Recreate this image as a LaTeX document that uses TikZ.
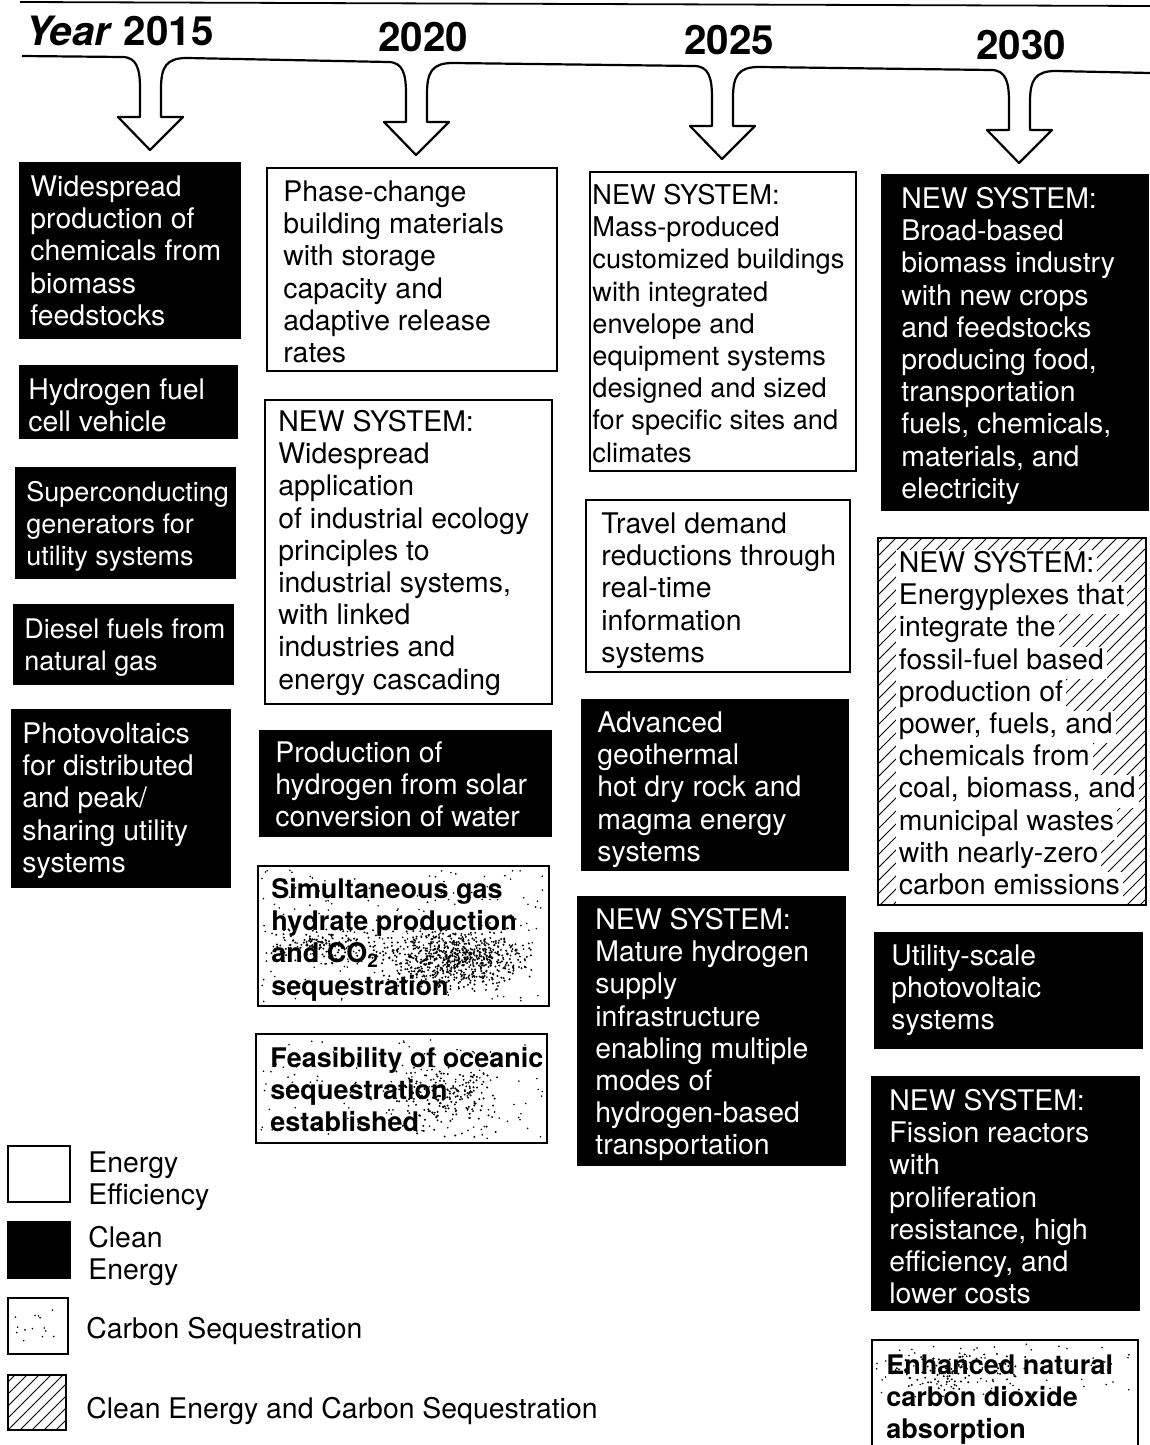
\documentclass[tikz,border=0pt]{standalone}
\usepackage{fontspec}
\setmainfont{TeX Gyre Heros}
\newcommand\stipdots[6]{% seed, count, x1, y1, x2, y2 (uniform)
  \pgfmathsetseed{#1}%
  \foreach \i in {1,...,#2}{%
    \pgfmathsetmacro\sx{#3+(#5-#3)*rnd}%
    \pgfmathsetmacro\sy{#4+(#6-#4)*rnd}%
    \fill (\sx,\sy) circle (0.45pt);}}
\newcommand\stipcluster[6]{% seed, count, cx, cy, rx, ry
  \pgfmathsetseed{#1}%
  \foreach \i in {1,...,#2}{%
    \pgfmathsetmacro\sx{#3+#5*(rand+rand)/2}%
    \pgfmathsetmacro\sy{#4+#6*(rand+rand)/2}%
    \fill (\sx,\sy) circle (0.55pt);}}
\tikzset{
  x=0.5pt, y=-0.5pt,
  wbox/.style={draw=black, line width=1pt, fill=white},
  kbox/.style={draw=black, line width=1pt, fill=black},
  txt/.style={anchor=north west, inner sep=0pt, align=left,
              font=\fontsize{14.2}{16.1}\selectfont},
  wtxt/.style={txt, text=white},
  fs/.style={font=\fontsize{#1}{16.1}\selectfont},
  btxt/.style={txt, font=\fontsize{13.5}{16.1}\selectfont\bfseries},
  hline/.style={anchor=north west, inner xsep=1.5pt, inner ysep=0pt, fill=white,
              font=\fontsize{14.2}{16.1}\selectfont},
  yr/.style={anchor=base west, inner sep=0pt, font=\fontsize{20.2}{24}\selectfont\bfseries},
  timeline/.style={line width=1.1pt, line join=round},
  hatchln/.style={line width=0.4pt},
}
\begin{document}
\begin{tikzpicture}
\useasboundingbox (0,0) rectangle (1150,1445);

% ---------- top rule and years ----------
\draw[line width=0.9pt] (20,2) -- (1150,6);
\node[yr] (y2015) at (25,46) {\textit{Year} 2015};
\node[yr] (y2020) at (378,52) {2020};
\node[yr] (y2025) at (684,55) {2025};
\node[yr] (y2030) at (976,60) {2030};

% ---------- timeline with arrows ----------
\draw[timeline]
  (22,56) -- (150-28,57)
  .. controls (150-13,57) and (150-10,57+12) .. (150-10,57+32)
  -- (150-10,57+60) -- (150-32,57+60) -- (150,57+93) -- (150+33,57+60)
  -- (150+11,57+60) -- (150+11,57+32)
  .. controls (150+11,57+10) and (150+16,57+1) .. (150+37,57+1)
  -- (416-28,62)
  .. controls (416-13,62) and (416-10,62+12) .. (416-10,62+32)
  -- (416-10,62+60) -- (416-32,62+60) -- (416,62+93) -- (416+33,62+60)
  -- (416+11,62+60) -- (416+11,62+32)
  .. controls (416+11,62+10) and (416+16,62+1) .. (416+37,62+1)
  -- (722-28,66)
  .. controls (722-13,66) and (722-10,66+12) .. (722-10,66+32)
  -- (722-10,66+60) -- (722-32,66+60) -- (722,66+93) -- (722+33,66+60)
  -- (722+11,66+60) -- (722+11,66+32)
  .. controls (722+11,66+10) and (722+16,66+1) .. (722+37,66+1)
  -- (1019-28,70)
  .. controls (1019-13,70) and (1019-10,70+12) .. (1019-10,70+32)
  -- (1019-10,70+60) -- (1019-32,70+60) -- (1019,70+93) -- (1019+33,70+60)
  -- (1019+11,70+60) -- (1019+11,70+32)
  .. controls (1019+11,70+10) and (1019+16,70+1) .. (1019+37,70+1)
  -- (1150,73);

% ---------- column 2015 ----------
\path[kbox] (20,163) rectangle (240,338);
\node[wtxt] (t1) at (30,196-22.5) {\strut Widespread\\production of\\chemicals from\\biomass\\feedstocks};
\path[kbox] (20,366) rectangle (237,438);
\node[wtxt] (t2) at (28,399-22.5) {\strut Hydrogen fuel\\cell vehicle};
\path[kbox] (16,468) rectangle (235,578);
\node[wtxt,fs=13.5] (t3) at (26,501-22.5) {\strut Superconducting\\generators for\\utility systems};
\path[kbox] (14,605) rectangle (233,684);
\node[wtxt,fs=13.5] (t4) at (24,638-22.5) {\strut Diesel fuels from\\natural gas};
\path[kbox] (12,710) rectangle (230,887);
\node[wtxt] (t5) at (22,743-22.5) {\strut Photovoltaics\\for distributed\\and peak/\\sharing utility\\systems};

% ---------- column 2020 ----------
\path[wbox] (267,168) rectangle (557,371);
\node[txt] (t6) at (283,201-22.5) {\strut Phase-change\\building materials\\with storage\\capacity and\\adaptive release\\rates};
\path[wbox] (265,400) rectangle (552,704);
\node[txt] (t7) at (278,431-22.5) {\strut NEW SYSTEM:\\Widespread\\application\\of industrial ecology\\principles to\\industrial systems,\\with linked\\industries and\\energy cascading};
\path[kbox] (260,731) rectangle (551,836);
\node[wtxt] (t8) at (275,762-22.5) {\strut Production of\\hydrogen from solar\\conversion of water};
\path[wbox] (258,866) rectangle (549,1006);
\stipdots{11}{200}{262}{870}{545}{1002}
\stipcluster{12}{750}{455}{958}{80}{34}
\stipcluster{13}{160}{330}{945}{65}{20}
\node[btxt] (t9) at (271,898-22.5) {\strut Simultaneous gas\\hydrate production\\and CO\textsubscript{2}\\sequestration};
\path[wbox] (256,1034) rectangle (547,1143);
\stipdots{21}{140}{260}{1038}{543}{1139}
\stipcluster{22}{200}{445}{1100}{60}{38}
\node[btxt] (t10) at (270,1067-22.5) {\strut Feasibility of oceanic\\sequestration\\established};

% ---------- column 2025 ----------
\path[wbox] (590,172) rectangle (856,471);
\node[txt,fs=13.6] (t11) at (592,204-22.5) {\strut NEW SYSTEM:\\Mass-produced\\customized buildings\\with integrated\\envelope and\\equipment systems\\designed and sized\\for specific sites and\\climates};
\path[wbox] (586,500) rectangle (850,672);
\node[txt] (t12) at (601,533-22.5) {\strut Travel demand\\reductions through\\real-time\\information\\systems};
\path[kbox] (582,700) rectangle (848,870);
\node[wtxt] (t13) at (597,732-22.5) {\strut Advanced\\geothermal\\hot dry rock and\\magma energy\\systems};
\path[kbox] (578,897) rectangle (845,1165);
\node[wtxt] (t14) at (595,929-22.5) {\strut NEW SYSTEM:\\Mature hydrogen\\supply\\infrastructure\\enabling multiple\\modes of\\hydrogen-based\\transportation};

% ---------- column 2030 ----------
\path[kbox] (882,175) rectangle (1148,510);
\node[wtxt] (t15) at (901,208-22.5) {\strut NEW SYSTEM:\\Broad-based\\biomass industry\\with new crops\\and feedstocks\\producing food,\\transportation\\fuels, chemicals,\\materials, and\\electricity};

\path[fill=white] (878,538) rectangle (1146,905);
\begin{scope}
  \clip (878,538) rectangle (1146,905);
  \foreach \k in {-375,-362,...,275}
    \draw[hatchln] (878+\k,905) -- ++(400,-400);
\end{scope}
\draw[line width=1pt] (878,538) rectangle (1146,905);
\foreach \t [count=\i] in {NEW SYSTEM:, Energyplexes that, integrate the,
    fossil-fuel based, production of, {power, fuels, and}, chemicals from,
    {coal, biomass, and}, municipal wastes, with nearly-zero, carbon emissions}
  \node[hline] (h\i) at (895.5,572-22.5+32.2*\i-32.2) {\strut\t};

\path[kbox] (875,933) rectangle (1142,1048);
\node[wtxt] (t17) at (891,965-22.5) {\strut Utility-scale\\photovoltaic\\systems};
\path[kbox] (872,1077) rectangle (1139,1310);
\node[wtxt] (t18) at (889,1110-22.5) {\strut NEW SYSTEM:\\Fission reactors\\with\\proliferation\\resistance, high\\efficiency, and\\lower costs};
\path[fill=white] (872,1340) rectangle (1138,1445);
\draw[line width=1pt] (872,1446) -- (872,1340) -- (1138,1340) -- (1138,1446);
\stipdots{31}{80}{876}{1344}{1134}{1400}
\stipcluster{32}{110}{960}{1372}{80}{22}
\node[btxt] (t19) at (886,1374-22.5) {\strut Enhanced natural\\carbon dioxide\\absorption};

% ---------- legend ----------
\path[wbox] (8,1146) rectangle (70,1202);
\node[txt] (l1) at (88,1172-22.5) {\strut Energy\\Efficiency};
\path[kbox] (8,1222) rectangle (70,1278);
\node[txt] (l2) at (88,1247-22.5) {\strut Clean\\Energy};
\path[wbox] (8,1298) rectangle (68,1354);
\stipdots{41}{14}{14}{1310}{62}{1345}
\node[txt] (l3) at (86,1338-22.5) {\strut Carbon Sequestration};
\begin{scope}
  \clip (8,1375) rectangle (66,1430);
  \foreach \k in {-60,-48,...,60}
    \draw[hatchln] (8+\k,1430) -- ++(80,-80);
\end{scope}
\draw[line width=1pt] (8,1375) rectangle (66,1430);
\node[txt] (l4) at (86,1418-22.5) {\strut Clean Energy and Carbon Sequestration};
\end{tikzpicture}
\end{document}
